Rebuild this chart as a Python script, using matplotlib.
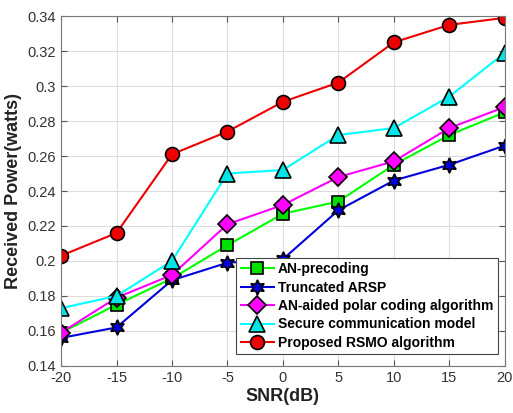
import numpy as np
import matplotlib
matplotlib.use("Agg")
import matplotlib.pyplot as plt

plt.rcParams['font.family'] = ['Liberation Sans', 'DejaVu Sans']

snr = [-20, -15, -10, -5, 0, 5, 10, 15, 20]
an_precoding = [0.159, 0.175, 0.190, 0.209, 0.227, 0.234, 0.255, 0.272, 0.285]
truncated_arsp = [0.156, 0.162, 0.189, 0.199, 0.201, 0.229, 0.246, 0.255, 0.266]
an_polar = [0.159, 0.179, 0.192, 0.221, 0.232, 0.248, 0.257, 0.276, 0.288]
secure_comm = [0.173, 0.180, 0.200, 0.250, 0.252, 0.272, 0.276, 0.294, 0.319]
rsmo = [0.203, 0.216, 0.261, 0.274, 0.291, 0.302, 0.325, 0.335, 0.339]

fig = plt.figure(figsize=(5.13, 4.13), dpi=100)
ax = fig.add_axes([0.119, 0.114, 0.865, 0.847])

ax.plot(snr, an_precoding, color='#00ff00', lw=1.5, marker='s', ms=8,
        mfc='#00e000', mec='black', mew=1.2, label='AN-precoding')
ax.plot(snr, truncated_arsp, color='#0000dd', lw=1.5, marker=(6, 1, 0), ms=11,
        mfc='#0000dd', mec='black', mew=1.2, label='Truncated ARSP')
ax.plot(snr, an_polar, color='#ff00ff', lw=1.5, marker='D', ms=9,
        mfc='#ff00ff', mec='black', mew=1.2, label='AN-aided polar coding algorithm')
ax.plot(snr, secure_comm, color='#00ffff', lw=1.5, marker='^', ms=11,
        mfc='#00e5e5', mec='black', mew=1.2, label='Secure communication model')
ax.plot(snr, rsmo, color='#ee0000', lw=1.5, marker='o', ms=10,
        mfc='#ee0000', mec='black', mew=1.2, label='Proposed RSMO algorithm')

ax.set_xlim(-20, 20)
ax.set_ylim(0.14, 0.34)
ax.set_xticks(snr)
ax.set_xticklabels([str(v) for v in snr])
yt = np.arange(0.14, 0.3401, 0.02)
ax.set_yticks(yt)
ax.set_yticklabels(['0.14', '0.16', '0.18', '0.2', '0.22', '0.24', '0.26', '0.28', '0.3', '0.32', '0.34'])
ax.grid(True, color='#dddddd', lw=0.8)
ax.set_axisbelow(True)
ax.tick_params(direction='in', top=True, right=True, labelsize=10.5, colors='#555555',
               labelcolor='#333333', length=4)
for s in ax.spines.values():
    s.set_color('#777777')
    s.set_linewidth(0.8)

ax.set_xlabel('SNR(dB)', fontsize=13, fontweight='bold', color='#222222', labelpad=2)
ax.set_ylabel('Received Power(watts)', fontsize=13, fontweight='bold', color='#222222', labelpad=4)

leg = ax.legend(loc='lower right', bbox_to_anchor=(0.984, 0.034),
                prop={'weight': 'bold', 'size': 10},
                frameon=True, fancybox=False, edgecolor='#444444', framealpha=1,
                borderpad=0.3, labelspacing=0.32, handlelength=2.4, handletextpad=0.3,
                borderaxespad=0)
leg.get_frame().set_linewidth(0.8)

fig.savefig('out.png', dpi=100)
